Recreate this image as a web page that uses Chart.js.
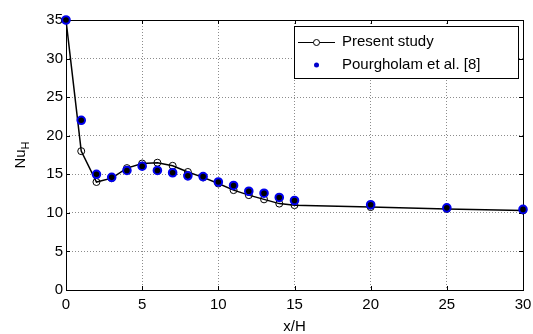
<!DOCTYPE html>
<html>
<head>
<meta charset="utf-8">
<script src="https://cdn.jsdelivr.net/npm/chart.js@4.4.0/dist/chart.umd.min.js"></script>
<style>
  html, body { margin: 0; padding: 0; background: #fff; }
  #wrap { width: 533px; height: 334px; }
</style>
</head>
<body>
<div id="wrap"><canvas id="chart" width="533" height="334"></canvas></div>
<script>
const xPresent = [0, 1, 2, 3, 4, 5, 6, 7, 8, 9, 10, 11, 12, 13, 14, 15, 20, 25, 30];
const nuPresent = [35, 18, 14, 14.5, 15.8, 16.4, 16.5, 16.1, 15.3, 14.6, 13.8, 12.95, 12.3, 11.75, 11.2, 11.0, 10.75, 10.5, 10.3];
const xPourgholam = [0, 1, 2, 3, 4, 5, 6, 7, 8, 9, 10, 11, 12, 13, 14, 15, 20, 25, 30];
const nuPourgholam = [35, 22, 15, 14.6, 15.5, 16.05, 15.5, 15.2, 14.8, 14.7, 14.0, 13.55, 12.8, 12.55, 12.0, 11.6, 11.05, 10.65, 10.45];
const xTicks = [0, 5, 10, 15, 20, 25, 30];
const yTicks = [0, 5, 10, 15, 20, 25, 30, 35];

const FONT = 'Liberation Sans, Arial, sans-serif';

function pts(xs, ys) {
    return xs.map((x, i) => ({ x: x, y: ys[i] }));
}

// black frame plus inner tick marks on all four sides, like the original plot
const frame = {
    id: 'frame',
    beforeDatasetsDraw(chart) {
        const ctx = chart.ctx;
        const a = chart.chartArea;
        const xs = chart.scales.x, ys = chart.scales.y;
        ctx.save();
        ctx.strokeStyle = '#000';
        ctx.lineWidth = 1;
        ctx.strokeRect(Math.round(a.left) + 0.5, Math.round(a.top) + 0.5,
            Math.round(a.right - a.left), Math.round(a.bottom - a.top));
        ctx.beginPath();
        xTicks.forEach(v => {
            const px = Math.round(xs.getPixelForValue(v)) + 0.5;
            ctx.moveTo(px, a.bottom); ctx.lineTo(px, a.bottom - 4);
            ctx.moveTo(px, a.top); ctx.lineTo(px, a.top + 4);
        });
        yTicks.forEach(v => {
            const py = Math.round(ys.getPixelForValue(v)) + 0.5;
            ctx.moveTo(a.left, py); ctx.lineTo(a.left + 4, py);
            ctx.moveTo(a.right, py); ctx.lineTo(a.right - 4, py);
        });
        ctx.stroke();
        ctx.restore();
    }
};

// axis titles (Nu with subscript H) and the boxed legend
const labels = {
    id: 'labels',
    afterDraw(chart) {
        const ctx = chart.ctx;
        const a = chart.chartArea;
        ctx.save();
        ctx.fillStyle = '#000';

        // x title
        ctx.font = '15px ' + FONT;
        ctx.textAlign = 'center';
        ctx.textBaseline = 'alphabetic';
        ctx.fillText('x/H', (a.left + a.right) / 2, 331);

        // y title, rotated
        ctx.translate(25, 155);
        ctx.rotate(-Math.PI / 2);
        ctx.textAlign = 'left';
        ctx.font = '15px ' + FONT;
        const w = ctx.measureText('Nu').width;
        ctx.font = '11px ' + FONT;
        const subW = ctx.measureText('H').width;
        const start = -(w + subW) / 2;
        ctx.font = '15px ' + FONT;
        ctx.fillText('Nu', start, 0);
        ctx.font = '11px ' + FONT;
        ctx.fillText('H', start + w, 4);
        ctx.setTransform(1, 0, 0, 1, 0, 0);

        // legend box
        const bx = 294, by = 26, bw = 224, bh = 52;
        ctx.fillStyle = '#fff';
        ctx.fillRect(bx, by, bw, bh);
        ctx.strokeStyle = '#000';
        ctx.lineWidth = 1;
        ctx.strokeRect(bx + 0.5, by + 0.5, bw, bh);

        ctx.beginPath();
        ctx.moveTo(298, 42.5); ctx.lineTo(335, 42.5);
        ctx.stroke();
        ctx.beginPath();
        ctx.arc(316.5, 42.5, 3, 0, Math.PI * 2);
        ctx.fillStyle = '#fff';
        ctx.fill();
        ctx.stroke();

        ctx.beginPath();
        ctx.arc(316.5, 65, 2.5, 0, Math.PI * 2);
        ctx.fillStyle = '#0000cc';
        ctx.fill();

        ctx.fillStyle = '#000';
        ctx.font = '15px ' + FONT;
        ctx.textAlign = 'left';
        ctx.textBaseline = 'middle';
        ctx.fillText('Present study', 342, 42);
        ctx.fillText('Pourgholam et al. [8]', 342, 65);
        ctx.restore();
    }
};

const gridOpts = {
    color: '#8c8c8c',
    lineWidth: 1,
    drawTicks: false,
    tickLength: 0
};

new Chart(document.getElementById('chart'), {
    type: 'scatter',
    data: {
        datasets: [
            {
                label: 'Pourgholam et al. [8]',
                data: pts(xPourgholam, nuPourgholam),
                showLine: false,
                clip: false,
                pointRadius: 3.8,
                pointBorderWidth: 2,
                pointBackgroundColor: '#000',
                pointBorderColor: '#0000ee',
                order: 1
            },
            {
                label: 'Present study',
                data: pts(xPresent, nuPresent),
                showLine: true,
                clip: false,
                borderColor: '#000',
                borderWidth: 1.5,
                tension: 0,
                pointRadius: 3.5,
                pointBorderWidth: 1,
                pointBackgroundColor: 'rgba(255,255,255,0)',
                pointBorderColor: '#000',
                order: 2
            }
        ]
    },
    options: {
        responsive: false,
        animation: false,
        layout: { padding: { top: 20, right: 10, left: 0, bottom: 0 } },
        plugins: {
            legend: { display: false },
            tooltip: { enabled: false }
        },
        scales: {
            x: {
                type: 'linear',
                min: 0, max: 30,
                afterBuildTicks: s => { s.ticks = xTicks.map(v => ({ value: v })); },
                afterFit: s => { s.height = 44; s.paddingLeft = 0; s.paddingRight = 0; },
                grid: gridOpts,
                border: { display: false, dash: [1, 2] },
                ticks: {
                    color: '#000',
                    font: { family: FONT, size: 15 },
                    padding: 6,
                    maxRotation: 0
                }
            },
            y: {
                type: 'linear',
                min: 0, max: 35,
                afterBuildTicks: s => { s.ticks = yTicks.map(v => ({ value: v })); },
                afterFit: s => { s.width = 66; s.paddingTop = 0; s.paddingBottom = 0; },
                grid: gridOpts,
                border: { display: false, dash: [1, 2] },
                ticks: {
                    color: '#000',
                    font: { family: FONT, size: 15 },
                    padding: 3
                }
            }
        }
    },
    plugins: [frame, labels]
});
</script>
</body>
</html>
